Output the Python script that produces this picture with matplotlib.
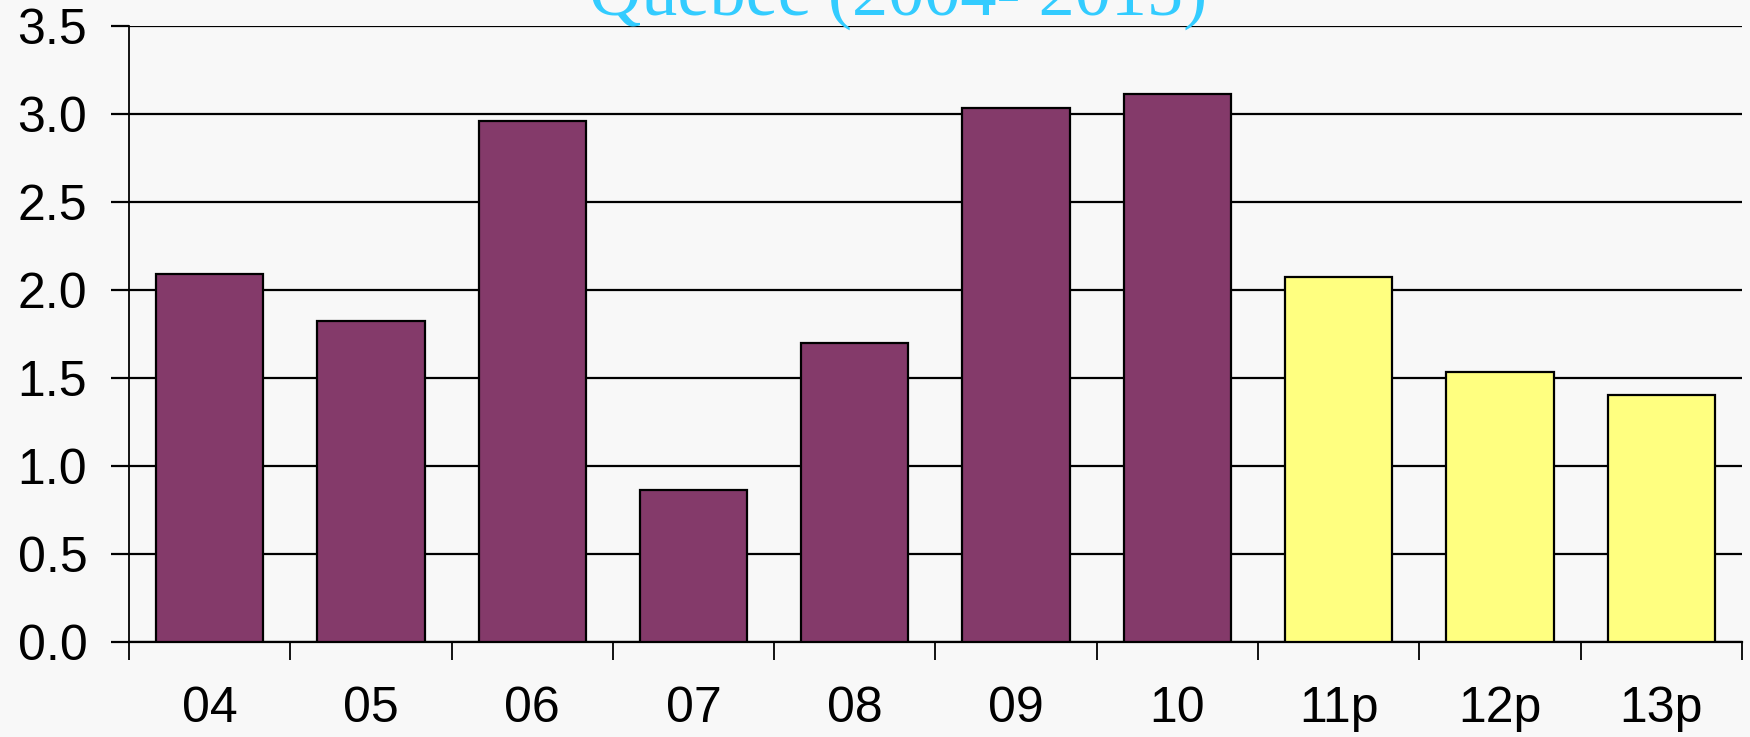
import numpy as np
import matplotlib
matplotlib.use('Agg')
import matplotlib.pyplot as plt

# data
years = ['04', '05', '06', '07', '08', '09', '10', '11p', '12p', '13p']
growth = [2.09, 1.82, 2.96, 0.86, 1.70, 3.03, 3.11, 2.07, 1.53, 1.40]
projected = [False]*7 + [True]*3
title = 'Québec (2004- 2015)'

bg = '#F8F8F8'
purple = '#843A6A'
yellow = '#FFFF80'

plt.rcParams['font.family'] = ['Liberation Sans', 'DejaVu Sans']

fig = plt.figure(figsize=(17.5, 7.37), dpi=100, facecolor=bg)
ax = fig.add_axes([0.0737, 0.1293, 0.9217, 0.8358])
ax.set_facecolor(bg)

idx = np.arange(len(years))
colors = [yellow if p else purple for p in projected]
ax.bar(idx, growth, 0.665, color=colors, edgecolor='black', linewidth=1.6, zorder=3)

ax.set_xlim(-0.5, len(years) - 0.5)
ax.set_ylim(0, 3.5)
ax.set_yticks(np.arange(0, 3.51, 0.5))
ax.set_yticklabels(['%.1f' % v for v in np.arange(0, 3.51, 0.5)])
ax.yaxis.grid(True, color='black', linewidth=1.6, zorder=1)

# ticks between categories, labels centred under bars
ax.set_xticks(np.arange(-0.5, len(years), 1.0))
ax.set_xticklabels([])
ax.set_xticks(idx, minor=True)
ax.set_xticklabels(years, minor=True)
ax.tick_params(axis='x', which='major', length=13, width=1.3, direction='out')
ax.tick_params(axis='x', which='minor', length=0, pad=32, labelsize=36)
ax.tick_params(axis='y', length=13, width=1.6, pad=17, labelsize=36)

for s in ['top', 'right']:
    ax.spines[s].set_visible(False)
ax.spines['left'].set_linewidth(1.3)
ax.spines['bottom'].set_linewidth(1.6)

fig.text(0.513, 0.980, title, color='#33CCFF', fontsize=52,
         family=['Liberation Serif', 'DejaVu Serif'], ha='center', va='baseline')

fig.savefig('out.png', dpi=100, facecolor=bg)
